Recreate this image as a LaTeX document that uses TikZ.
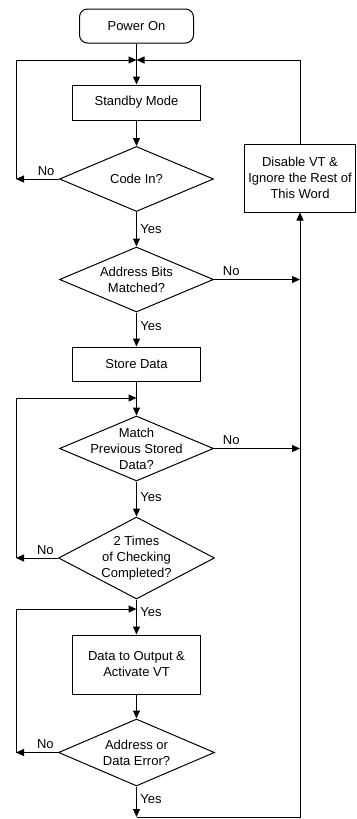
\documentclass[tikz,border=0pt]{standalone}
\usepackage{fontspec}
\setmainfont{Liberation Sans}
\usetikzlibrary{shapes.geometric,arrows.meta}
\begin{document}
\begin{tikzpicture}[x=1pt, y=-1pt, >={Triangle[length=8pt,width=7pt]},
    line width=1pt, font=\fontsize{13}{16}\selectfont,
    process/.style={draw, rectangle, align=center, minimum width=128pt, inner sep=2pt},
    decision/.style={draw, diamond, align=center, shape aspect=2.37, inner xsep=-30pt, inner ysep=-8pt,
        minimum width=154pt, minimum height=65pt}]
    \useasboundingbox (0,0) rectangle (356,819);

    \node[process, rounded corners=8pt, minimum width=114pt, minimum height=34pt] (power) at (136.5,26) {Power On};
    \node[process, minimum height=35pt] (standby) at (136.5,102.5) {Standby Mode};
    \node[decision] (codein) at (136.5,179) {Code In?};
    \node[decision] (addr) at (136.5,279.5) {Address Bits\\Matched?};
    \node[process, minimum height=34pt] (store) at (136.5,364) {Store Data};
    \node[decision] (match) at (136.5,448.5) {Match\\Previous Stored\\Data?};
    \node[decision, minimum width=156pt, minimum height=82pt] (twotimes) at (136.5,558) {2 Times\\of Checking\\Completed?};
    \node[process, minimum height=59pt] (output) at (136.5,664.5) {Data to Output \&\\Activate VT};
    \node[decision, minimum width=156pt, minimum height=67pt] (error) at (136.5,752.5) {Address or\\Data Error?};
    \node[process, minimum width=111pt, minimum height=68pt] (disable) at (300,178) {Disable VT \&\\Ignore the Rest of\\This Word};

    \coordinate (jtop) at (136.5,60);
    \coordinate (lcode) at (16,179);
    \coordinate (raddr) at (300,279.5);
    \coordinate (rmatch) at (300,448.5);
    \coordinate (jstore) at (136.5,398);
    \coordinate (ltwo) at (16,558);
    \coordinate (jout) at (136.5,609);
    \coordinate (lerr) at (16,752.5);
    \coordinate (bl) at (136.5,817);
    \coordinate (br) at (300,817);

    \draw[->] (power) -- (standby);
    \draw[->] (standby) -- (codein);
    \draw[->] (codein) -- node[right] (yes1) {Yes} (addr);
    \draw[->] (addr) -- node[right, pos=0.4] (yes2) {Yes} (store);
    \draw[->] (store) -- (match);
    \draw[->] (match) -- node[right, pos=0.45] (yes3) {Yes} (twotimes);
    \draw[->] (twotimes) -- node[right, pos=0.35] (yes4) {Yes} (output);
    \draw[->] (output) -- (error);
    \draw[->] (error) -- node[right, pos=0.4] (yes5) {Yes} (bl);
    \draw[->] (bl) -- (br) -- (disable);
    \draw[->] (disable) |- (jtop);

    \draw[->] (codein.west) -- node[above, pos=0.3] (no1) {No} (lcode);
    \draw[->] (lcode) |- (jtop);
    \draw[->] (addr.east) -- node[above, pos=0.2] (no2) {No} (raddr);
    \draw[->] (match.east) -- node[above, pos=0.2] (no3) {No} (rmatch);
    \draw[->] (twotimes.west) -- node[above, pos=0.3] (no4) {No} (ltwo);
    \draw[->] (ltwo) |- (jstore);
    \draw[->] (error.west) -- node[above, pos=0.3] (no5) {No} (lerr);
    \draw[->] (lerr) |- (jout);
\end{tikzpicture}
\end{document}
